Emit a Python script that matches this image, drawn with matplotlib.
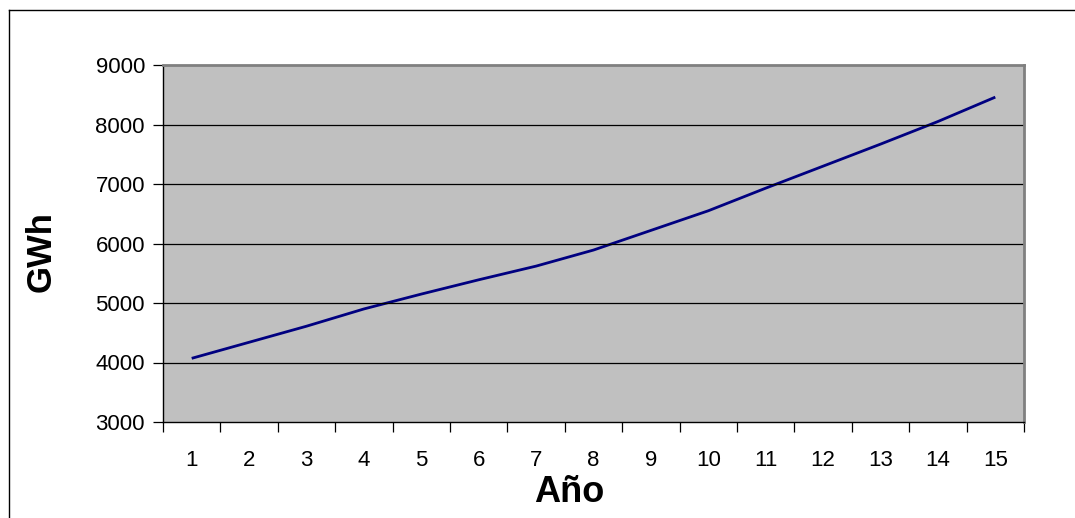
import matplotlib.pyplot as plt
from matplotlib.lines import Line2D

years = list(range(1, 16))
gwh = [4070, 4340, 4610, 4900, 5150, 5390, 5620, 5890, 6220, 6550, 6930, 7300, 7670, 8050, 8460]
yticks = [3000, 4000, 5000, 6000, 7000, 8000, 9000]

plt.rcParams['font.family'] = ['Liberation Sans', 'DejaVu Sans']

W, H = 1075, 518
fig = plt.figure(figsize=(W / 100, H / 100), dpi=100)
fig.patch.set_facecolor('white')

# plot area in pixels
left, right, top, bottom = 163, 1024, 65, 422
ax = fig.add_axes([left / W, 1 - bottom / H, (right - left) / W, (bottom - top) / H])
ax.set_facecolor('#c0c0c0')

ax.plot(years, gwh, color='#000080', lw=2, solid_capstyle='butt')

ax.set_xlim(0.5, 15.5)
ax.set_ylim(3000, 9000)
ax.set_yticks(yticks)
for v in yticks[1:-1]:
    ax.axhline(v, color='black', lw=0.9)

ax.set_xticks(years)
ax.set_xticklabels([str(y) for y in years], fontsize=16)
ax.set_xticks([y + 0.5 for y in range(0, 16)], minor=True)
ax.tick_params(axis='x', which='major', length=0, pad=20)
ax.tick_params(axis='x', which='minor', length=7, direction='out', color='black', width=0.9)
ax.tick_params(axis='y', length=7, direction='out', labelsize=16, pad=6, width=0.9)

for s in ['top', 'right']:
    ax.spines[s].set_color('#808080')
    ax.spines[s].set_linewidth(2)
for s in ['left', 'bottom']:
    ax.spines[s].set_color('black')
    ax.spines[s].set_linewidth(1)

fig.text(569 / W, 1 - 492 / H, 'Año', fontsize=26, fontweight='bold', ha='center', va='center')
fig.text(41 / W, 1 - 252 / H, 'GWh', fontsize=25, fontweight='bold', ha='center', va='center', rotation=90)

# outer chart border (left and top only visible)
fig.add_artist(Line2D([9 / W, 9 / W], [0, 1 - 9.5 / H], transform=fig.transFigure, color='black', lw=1))
fig.add_artist(Line2D([9 / W, 1], [1 - 9.5 / H, 1 - 9.5 / H], transform=fig.transFigure, color='black', lw=1))

fig.savefig('out.png', dpi=100)
